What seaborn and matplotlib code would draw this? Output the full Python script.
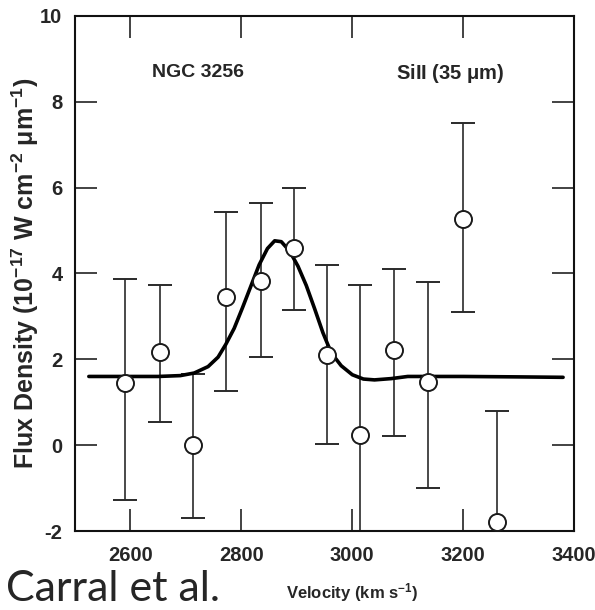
import matplotlib
matplotlib.use("Agg")
import matplotlib.pyplot as plt
import seaborn as sns
import pandas as pd

# ---- data ----
velocity = [2591, 2654, 2712, 2773, 2836, 2895, 2955, 3014, 3075, 3136, 3200, 3261]
flux = [1.45, 2.18, 0.0, 3.44, 3.83, 4.60, 2.11, 0.24, 2.22, 1.46, 5.27, -1.78]
err_top = [3.86, 3.73, 1.65, 5.44, 5.64, 5.99, 4.19, 3.72, 4.10, 3.80, 7.50, 0.80]
err_bottom = [-1.28, 0.55, -1.70, 1.25, 2.05, 3.15, 0.02, -3.24, 0.22, -1.00, 3.10, -4.36]

fit_velocity = [2525, 2600, 2650, 2690, 2715, 2740, 2758, 2772, 2787, 2802, 2817,
                2832, 2847, 2860, 2872, 2887, 2902, 2917, 2932, 2947, 2962, 2980,
                3000, 3020, 3040, 3070, 3100, 3200, 3300, 3380]
fit_flux = [1.60, 1.60, 1.60, 1.62, 1.68, 1.83, 2.05, 2.35, 2.72, 3.20, 3.70,
            4.20, 4.58, 4.76, 4.74, 4.52, 4.17, 3.72, 3.18, 2.62, 2.15, 1.85,
            1.64, 1.54, 1.52, 1.55, 1.60, 1.60, 1.59, 1.58]

x_ticks = [2600, 2800, 3000, 3200, 3400]
y_ticks = [-2, 0, 2, 4, 6, 8, 10]

sns.set_theme(style="ticks")
main_font = "Liberation Sans"
plt.rcParams["font.family"] = [main_font, "DejaVu Sans"]
plt.rcParams["mathtext.fontset"] = "custom"
plt.rcParams["mathtext.rm"] = main_font + ":bold"
plt.rcParams["mathtext.it"] = main_font + ":bold"
plt.rcParams["mathtext.default"] = "regular"

df = pd.DataFrame({"v": velocity, "f": flux})
fit = pd.DataFrame({"v": fit_velocity, "f": fit_flux})

fig = plt.figure(figsize=(5.95, 6.10), dpi=100)
ax = fig.add_axes([0.126, 0.1295, 0.839, 0.8445])

yerr = [[f - b for f, b in zip(flux, err_bottom)], [t - f for f, t in zip(flux, err_top)]]
ax.errorbar(velocity, flux, yerr=yerr, fmt="none", ecolor="#2a2a2a",
            elinewidth=1.2, capsize=8.5, capthick=1.4, zorder=2)
sns.lineplot(data=fit, x="v", y="f", ax=ax, color="black", lw=2.6, zorder=3,
             solid_joinstyle="round", solid_capstyle="round")
sns.scatterplot(data=df, x="v", y="f", ax=ax, marker="o", s=150,
                facecolor="white", edgecolor="#1a1a1a", linewidth=1.4, zorder=4)

ax.set_xlim(2500, 3400)
ax.set_ylim(-2, 10)
ax.set_xticks(x_ticks)
ax.set_yticks(y_ticks)
ax.set_xticklabels([str(t) for t in x_ticks])
ax.set_yticklabels([str(t) for t in y_ticks])
ax.tick_params(direction="in", length=16, width=1.2, top=True, right=True,
               labelsize=14.5, color="#222222")
ax.tick_params(axis="y", pad=9)
ax.tick_params(axis="x", pad=11)
for lab in ax.get_xticklabels() + ax.get_yticklabels():
    lab.set_fontweight("bold")
for s in ax.spines.values():
    s.set_linewidth(1.5)
    s.set_color("#111111")

ax.set_xlabel("")
ax.set_ylabel(r"Flux Density (10$^{-17}$ W cm$^{-2}$ $\mu$m$^{-1}$)",
              fontsize=18, fontweight="bold")
ax.yaxis.set_label_coords(-0.068, 0.5)

ax.text(2721, 8.69, "NGC 3256", fontsize=14, fontweight="bold", ha="center", va="center")
ax.text(3177, 8.66, r"SiII (35 $\mu$m)", fontsize=14.5, fontweight="bold", ha="center", va="center")

fig.text(352 / 595, 1 - 593 / 610, r"Velocity (km s$^{-1}$)", fontsize=12,
         fontweight="bold", ha="center", va="center")
fig.text(6 / 595, 1 - 601 / 610, "Carral et al.", fontsize=31, family=["Lato", "DejaVu Sans"],
         ha="left", va="baseline")

fig.savefig("out.png", dpi=100)
